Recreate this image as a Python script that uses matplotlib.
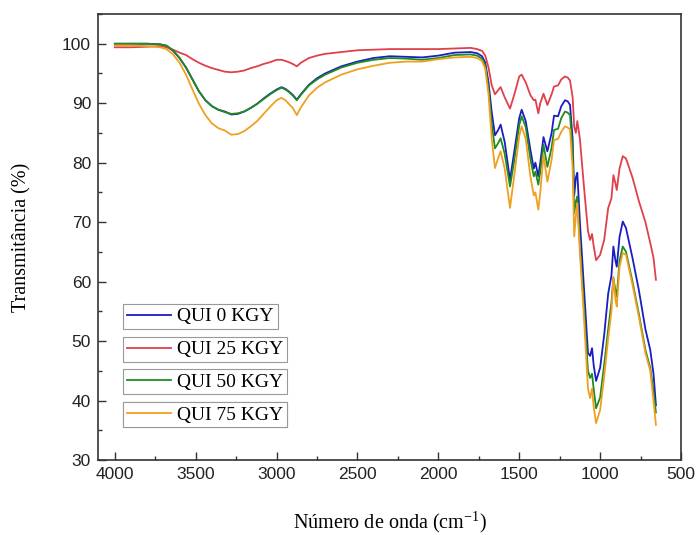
import matplotlib
matplotlib.use("Agg")
import matplotlib.pyplot as plt
from matplotlib.ticker import MultipleLocator

plt.rcParams["mathtext.fontset"] = "custom"
plt.rcParams["mathtext.rm"] = "Liberation Serif"
plt.rcParams["mathtext.it"] = "Liberation Serif:italic"

wavenumber = [4000, 3900, 3800, 3720, 3680, 3640, 3600, 3560, 3520, 3480, 3440, 3400, 3360, 3320,
              3280, 3240, 3200, 3160, 3120, 3080, 3040, 3000, 2970, 2945, 2925, 2900, 2875, 2850,
              2800, 2750, 2700, 2600, 2500, 2400, 2300, 2200, 2100, 2000, 1900, 1800, 1760, 1730,
              1710, 1690, 1670, 1650, 1630, 1615, 1590, 1557, 1530, 1500, 1485, 1460, 1430, 1410,
              1400, 1382, 1370, 1350, 1326, 1300, 1285, 1260, 1240, 1217, 1200, 1186, 1170, 1160,
              1150, 1141, 1125, 1100, 1075, 1062, 1050, 1040, 1025, 1000, 975, 950, 930, 918, 905,
              897, 880, 860, 840, 800, 760, 720, 690, 670, 655]

qui_0 = [100.0, 100.0, 100.0, 99.9, 99.6, 98.8, 97.6, 96.0, 94.0, 92.0, 90.5, 89.5, 88.9, 88.6,
         88.1, 88.2, 88.6, 89.2, 89.9, 90.8, 91.6, 92.3, 92.7, 92.4, 92.0, 91.4, 90.6, 91.5,
         93.1, 94.2, 95.0, 96.2, 97.0, 97.6, 97.9, 97.8, 97.7, 98.0, 98.5, 98.6, 98.4, 97.9,
         96.8, 93.5, 88.5, 84.6, 85.5, 86.4, 83.5, 77.1, 82.0, 87.5, 88.9, 87.0, 82.0, 79.0,
         80.0, 77.7, 80.0, 84.3, 81.9, 85.0, 87.9, 87.8, 89.5, 90.5, 90.3, 89.7, 84.0, 74.5,
         77.5, 78.3, 70.0, 59.0, 48.0, 47.5, 48.8, 46.0, 43.3, 45.5, 51.0, 58.0, 61.0, 65.9, 63.5,
         62.5, 67.5, 70.1, 69.0, 64.0, 58.5, 52.0, 48.5, 44.5, 39.2]

qui_25 = [99.4, 99.4, 99.5, 99.6, 99.4, 99.0, 98.5, 98.1, 97.4, 96.8, 96.3, 95.9, 95.6, 95.3,
          95.2, 95.3, 95.5, 95.9, 96.2, 96.6, 96.9, 97.3, 97.3, 97.1, 96.9, 96.6, 96.2, 96.8,
          97.6, 98.0, 98.3, 98.6, 98.9, 99.0, 99.1, 99.1, 99.1, 99.1, 99.2, 99.3, 99.1, 98.8,
          98.0, 96.0, 93.0, 91.5, 92.2, 92.7, 91.0, 89.1, 91.5, 94.5, 94.8, 93.5, 91.3, 90.5,
          90.6, 88.3, 90.0, 91.6, 89.7, 91.5, 92.8, 93.0, 94.0, 94.5, 94.3, 93.8, 91.0, 86.0,
          85.0, 87.0, 84.0, 76.0, 68.5, 67.0, 68.0, 66.0, 63.6, 64.5, 67.0, 72.4, 74.0, 77.9, 76.5,
          75.4, 79.0, 81.1, 80.7, 77.5, 73.5, 70.0, 66.5, 64.0, 60.3]

qui_50 = [100.0, 100.0, 100.0, 99.9, 99.7, 98.9, 97.6, 96.0, 94.0, 92.0, 90.5, 89.5, 88.9, 88.5,
          88.2, 88.3, 88.6, 89.2, 89.9, 90.7, 91.5, 92.2, 92.6, 92.3, 91.9, 91.3, 90.5, 91.4,
          93.0, 94.0, 94.8, 96.0, 96.8, 97.3, 97.6, 97.5, 97.3, 97.6, 98.1, 98.2, 98.0, 97.5,
          96.3, 92.5, 86.5, 82.4, 83.3, 84.1, 81.5, 76.0, 80.5, 86.3, 87.8, 86.0, 80.5, 77.7,
          78.5, 76.3, 78.5, 83.0, 79.3, 82.5, 85.5, 85.7, 87.5, 88.6, 88.4, 88.0, 82.0, 71.5,
          73.5, 74.3, 66.0, 55.5, 45.0, 43.8, 44.5, 42.0, 38.7, 40.5, 46.0, 52.0, 56.5, 60.6, 58.5,
          57.5, 63.5, 65.9, 65.0, 60.0, 54.5, 48.5, 45.5, 41.5, 38.0]

qui_75 = [99.7, 99.7, 99.6, 99.4, 99.1, 98.2, 96.8, 94.8, 92.3, 89.9, 88.0, 86.6, 85.8, 85.4,
          84.7, 84.8, 85.3, 86.1, 87.0, 88.2, 89.4, 90.5, 90.9, 90.5, 89.9, 89.2, 88.0, 89.3,
          91.3, 92.6, 93.5, 94.8, 95.7, 96.3, 96.8, 97.0, 97.0, 97.4, 97.7, 97.8, 97.6, 97.1,
          95.8, 91.5, 84.0, 79.1, 80.8, 81.9, 79.0, 72.4, 78.0, 84.5, 86.1, 84.0, 77.5, 74.5,
          75.0, 72.1, 75.0, 81.3, 76.8, 80.5, 83.8, 84.0, 85.2, 86.1, 85.9, 85.6, 79.0, 67.6,
          71.0, 73.2, 65.0, 54.0, 42.0, 40.4, 42.0, 39.0, 36.2, 38.4, 44.0, 50.5, 55.0, 60.8, 57.0,
          55.8, 62.5, 64.8, 64.5, 59.5, 54.0, 48.0, 45.0, 40.0, 35.9]

labels = ["QUI 0 KGY", "QUI 25 KGY", "QUI 50 KGY", "QUI 75 KGY"]
series = [qui_0, qui_25, qui_50, qui_75]
colors = ["#1c1cc4", "#e0404a", "#1e8c1e", "#f0a020"]

fig = plt.figure(figsize=(6.96, 5.35), dpi=100)
ax = fig.add_axes([98 / 696, 1 - 460 / 535, 583 / 696, 446 / 535])

lines = []
for ys, c, lab in zip(series, colors, labels):
    ln, = ax.plot(wavenumber, ys, color=c, lw=1.3, label=lab)
    lines.append(ln)

ax.set_xlim(4104, 500)
ax.set_ylim(30, 105)
ax.xaxis.set_major_locator(MultipleLocator(500))
ax.xaxis.set_minor_locator(MultipleLocator(250))
ax.yaxis.set_major_locator(MultipleLocator(10))
ax.yaxis.set_minor_locator(MultipleLocator(5))
ax.tick_params(which="both", direction="in", colors="#333333", width=1.0)
ax.tick_params(which="major", length=6)
ax.tick_params(which="minor", length=3)
ax.tick_params(axis="both", which="major", labelsize=12.5, labelcolor="#222222", pad=5)
for lab in ax.get_xticklabels() + ax.get_yticklabels():
    lab.set_fontfamily("Liberation Sans")
for sp in ax.spines.values():
    sp.set_color("#333333")
    sp.set_linewidth(1.2)

ax.set_ylabel("Transmitância (%)", fontfamily="Liberation Serif", fontsize=14.5, labelpad=22)
ax.set_xlabel(r"Número de onda (cm$^{\mathregular{-1}}$)", fontfamily="Liberation Serif",
              fontsize=14.5, labelpad=20)

ys_pos = [0.350, 0.276, 0.204, 0.130]
for ln, yp in zip(lines, ys_pos):
    leg = ax.legend(handles=[ln], loc="upper left", bbox_to_anchor=(0.0424, yp),
                    frameon=True, fancybox=False, edgecolor="#999999", framealpha=1,
                    borderpad=0.2, handlelength=2.3, handletextpad=0.3, borderaxespad=0,
                    prop={"family": "Liberation Serif", "size": 14})
    leg.get_frame().set_linewidth(0.8)
    ax.add_artist(leg)

fig.savefig("out.png", dpi=100)
